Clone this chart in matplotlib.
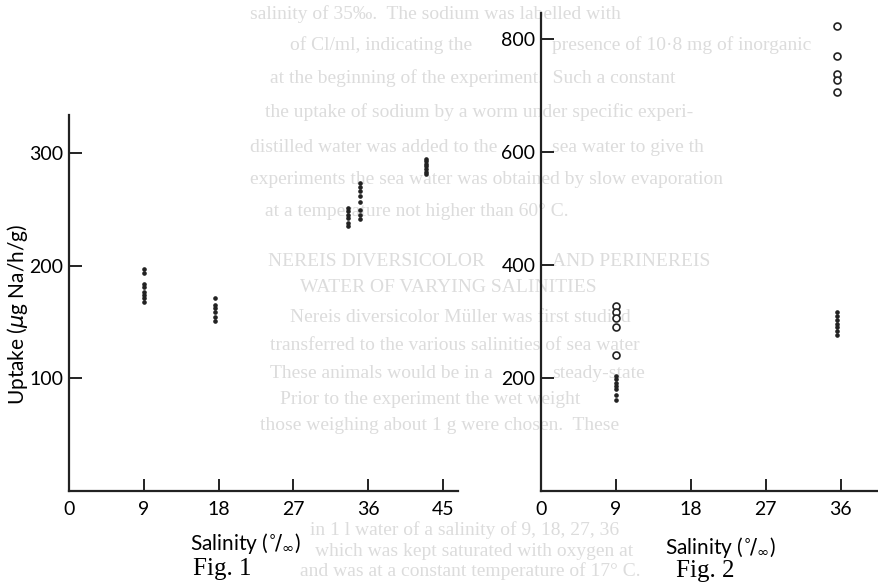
import matplotlib
matplotlib.use("Agg")
import matplotlib.pyplot as plt

# Fig. 1 : uptake vs salinity (filled dots only)
f1_sal = [9, 17.6, 33.6, 35.0, 43.0]
f1_vals = [
    [197, 193, 184, 181, 177, 174, 171, 168],
    [171, 165, 162, 159, 154, 151],
    [251, 248, 245, 242, 238, 235],
    [273, 270, 266, 262, 256, 249, 245, 241],
    [295, 293, 290, 288, 286, 283, 281],
]

# Fig. 2 : filled dots and open circles
f2_sal = [9, 35.5]
f2_filled = [
    [204, 198, 192, 186, 180, 170, 161],
    [317, 310, 303, 296, 290, 283, 276],
]
f2_open = [
    [327, 317, 307, 290, 241],
    [823, 770, 738, 727, 706],
]

f1_xticks = [0, 9, 18, 27, 36, 45]
f1_yticks = [100, 200, 300]
f2_xticks = [0, 9, 18, 27, 36]
f2_yticks = [200, 400, 600, 800]

# faint page text showing through the scan ('|' = jump past the Fig. 2 axis)
page_lines = [
    "salinity of 35\u2030.  The sodium was labelled with",
    "of Cl/ml, indicating the|presence of 10\u00b78 mg of inorganic",
    "at the beginning of the experiment.  Such a constant",
    "the uptake of sodium by a worm under specific experi-",
    "distilled water was added to the|sea water to give th",
    "experiments the sea water was obtained by slow evaporation",
    "at a temperature not higher than 60\u00b0 C.",
    "NEREIS DIVERSICOLOR|AND PERINEREIS",
    "WATER OF VARYING SALINITIES",
    "Nereis diversicolor M\u00fcller was first studied",
    "transferred to the various salinities of sea water",
    "These animals would be in a|steady-state",
    "Prior to the experiment the wet weight",
    "those weighing about 1 g were chosen.  These",
    "in 1 l water of a salinity of 9, 18, 27, 36",
    "which was kept saturated with oxygen at",
    "and was at a constant temperature of 17\u00b0 C.",
]
page_y = [14, 45, 78, 112, 147, 180, 212, 262, 288, 318, 346, 374, 400, 426, 530, 551, 571]
page_x = [250, 290, 270, 265, 250, 250, 265, 268, 300, 290, 270, 270, 280, 260, 310, 315, 300]

W, H = 879, 582
fig = plt.figure(figsize=(W / 100, H / 100), dpi=100)

for t, yy, xx in zip(page_lines, page_y, page_x):
    parts = t.split("|")
    starts = [xx] if len(parts) == 1 else [xx, 552]
    for p, x0 in zip(parts, starts):
        fig.text(x0 / W, 1 - yy / H, p, family="Liberation Serif", fontsize=14,
                 color="#dcdcdc", va="center", ha="left", zorder=-5)

tickfont = dict(family="Lato", size=14)
salin = r"Salinity ($^{\circ}\!/_{\infty}$)"


def setup(ax, xmax, ymax, xt, yt):
    ax.set_facecolor("none")
    ax.set_xlim(0, xmax)
    ax.set_ylim(0, ymax)
    for s in ["top", "right"]:
        ax.spines[s].set_visible(False)
    for s in ["left", "bottom"]:
        ax.spines[s].set_linewidth(1.6)
        ax.spines[s].set_color("#222222")
    ax.set_xticks(xt)
    ax.set_yticks(yt)
    ax.set_xticklabels([str(v) for v in xt], fontdict=tickfont)
    ax.set_yticklabels([str(v) for v in yt], fontdict=tickfont)
    ax.tick_params(direction="in", length=9, width=1.4, color="#222222", pad=4)
    ax.tick_params(axis="x", pad=7)


# Fig. 1
ax1 = fig.add_axes([69 / W, (H - 491) / H, (458 - 69) / W, (491 - 115) / H])
setup(ax1, 46.8, 333.6, f1_xticks, f1_yticks)
for s, vals in zip(f1_sal, f1_vals):
    ax1.plot([s] * len(vals), vals, "o", color="#222222", markersize=2.3, linestyle="none")
ax1.set_ylabel("Uptake ($\\mu$g Na/h/g)", family="Lato", fontsize=15)
ax1.yaxis.set_label_coords(-0.1, 0.47)

# Fig. 2
ax2 = fig.add_axes([541 / W, (H - 491) / H, (W - 541) / W, (491 - 13) / H])
setup(ax2, 40.6, 846, f2_xticks, f2_yticks)
for s, vals in zip(f2_sal, f2_filled):
    ax2.plot([s] * len(vals), vals, "o", color="#222222", markersize=2.3, linestyle="none")
for s, vals in zip(f2_sal, f2_open):
    ax2.plot([s] * len(vals), vals, "o", markerfacecolor="white", markeredgecolor="#222222",
             markeredgewidth=1.2, markersize=5, linestyle="none")

fig.text(245 / W, 1 - 543 / H, salin, family="Lato", fontsize=15, ha="center", va="center")
fig.text(720 / W, 1 - 547 / H, salin, family="Lato", fontsize=15, ha="center", va="center")
fig.text(222 / W, 1 - 569 / H, "Fig. 1", family="Liberation Serif", fontsize=18, ha="center", va="center")
fig.text(705 / W, 1 - 571 / H, "Fig. 2", family="Liberation Serif", fontsize=18, ha="center", va="center")

fig.savefig("out.png", dpi=100)
